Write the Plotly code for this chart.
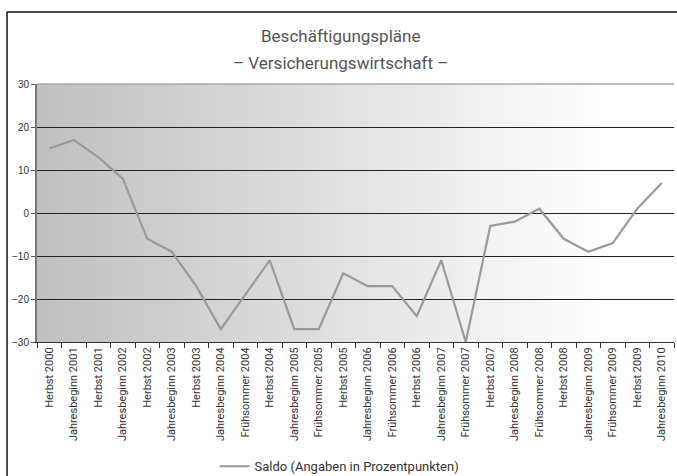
import plotly.graph_objects as go

categories = [
    "Herbst 2000", "Jahresbeginn 2001", "Herbst 2001", "Jahresbeginn 2002",
    "Herbst 2002", "Jahresbeginn 2003", "Herbst 2003", "Jahresbeginn 2004",
    "Frühsommer 2004", "Herbst 2004", "Jahresbeginn 2005", "Frühsommer 2005",
    "Herbst 2005", "Jahresbeginn 2006", "Frühsommer 2006", "Herbst 2006",
    "Jahresbeginn 2007", "Frühsommer 2007", "Herbst 2007", "Jahresbeginn 2008",
    "Frühsommer 2008", "Herbst 2008", "Jahresbeginn 2009", "Frühsommer 2009",
    "Herbst 2009", "Jahresbeginn 2010",
]
saldo = [15, 17, 13, 8, -6, -9, -17, -27, -19, -11, -27, -27, -14, -17, -17,
         -24, -11, -30, -3, -2, 1, -6, -9, -7, 1, 7]
y_ticks = [-30, -20, -10, 0, 10, 20, 30]
series_name = "Saldo (Angaben in Prozentpunkten)"
title_line1 = "Beschäftigungspläne"
title_line2 = "– Versicherungswirtschaft –"

FONT = "Roboto, Open Sans, sans-serif"

fig = go.Figure()
fig.add_trace(go.Scatter(
    x=categories, y=saldo, mode="lines", name=series_name,
    line=dict(color="#9a9a9a", width=2.2),
))

# gradient background strips
shapes = []
n = 80
for i in range(n):
    t = i / (n - 1)
    v = int(round(192 + (255 - 192) * min(1.0, t / 0.9)))
    c = f"rgb({v},{v},{v})"
    shapes.append(dict(type="rect", xref="paper", yref="paper",
                       x0=i / n, x1=(i + 1) / n + 0.002, y0=0, y1=1,
                       fillcolor=c, line=dict(width=0), layer="below"))
# top border of plot area (lighter than grid)
shapes.append(dict(type="line", xref="paper", yref="paper",
                   x0=0, x1=1, y0=1, y1=1,
                   line=dict(color="#a8a8a8", width=1.5), layer="above"))
# outer frame: top and left edges only
shapes.append(dict(type="line", xref="paper", yref="paper",
                   x0=-0.047, x1=1.1, y0=1.279, y1=1.279,
                   line=dict(color="#111", width=1.5), layer="above"))
shapes.append(dict(type="line", xref="paper", yref="paper",
                   x0=-0.047, x1=-0.047, y0=-0.7, y1=1.279,
                   line=dict(color="#111", width=1.5), layer="above"))

fig.update_layout(
    width=677, height=476,
    margin=dict(l=37, r=3, t=84, b=134, autoexpand=False),
    paper_bgcolor="white",
    plot_bgcolor="white",
    shapes=shapes,
    showlegend=True,
    legend=dict(orientation="h", x=0.475, xanchor="center", y=-0.54,
                yanchor="bottom", font=dict(family=FONT, size=13, color="#333"),
                bgcolor="rgba(0,0,0,0)"),
    annotations=[
        dict(text=title_line1, xref="paper", yref="paper", x=0.4757, y=1.186,
             showarrow=False, xanchor="center", yanchor="middle",
             font=dict(family=FONT, size=17, color="#555")),
        dict(text=title_line2, xref="paper", yref="paper", x=0.4757, y=1.081,
             showarrow=False, xanchor="center", yanchor="middle",
             font=dict(family=FONT, size=17, color="#555")),
    ],
)

fig.update_xaxes(
    type="category", range=[-0.5, len(categories) - 0.5], automargin=False,
    tickson="boundaries", ticks="outside", ticklen=5, tickcolor="#333",
    tickangle=-90, showgrid=False, showline=True, linecolor="#333",
    linewidth=1, tickfont=dict(family=FONT, size=11, color="#333"),
)
fig.update_yaxes(
    range=[-30, 30], tickvals=y_ticks, ticks="outside", ticklen=4,
    automargin=False,
    tickcolor="#555", showgrid=True, gridcolor="#222", gridwidth=1,
    zeroline=True, zerolinecolor="#222", zerolinewidth=1,
    showline=True, linecolor="#777", linewidth=2,
    tickfont=dict(family="Liberation Sans, Arial, sans-serif", size=10, color="#333"),
)

fig.write_html(
    "out.html",
    config={"displayModeBar": False},
    post_script="document.body.style.margin='0';document.body.style.overflow='hidden';",
)
